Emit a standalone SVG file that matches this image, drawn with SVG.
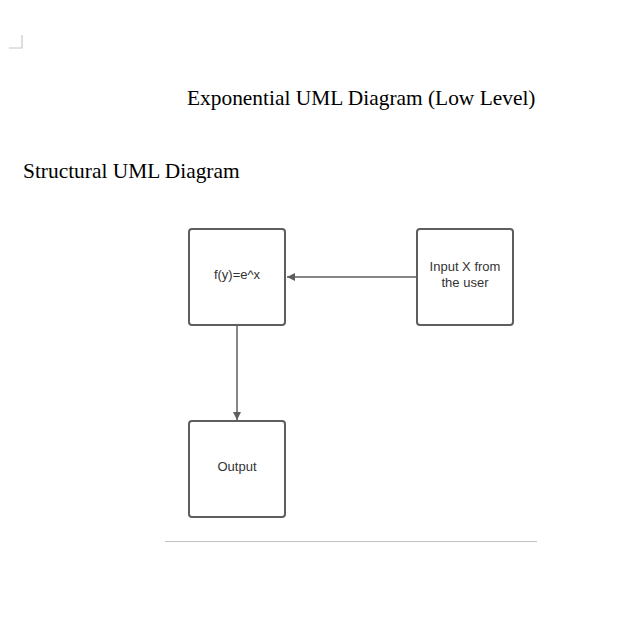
<svg xmlns="http://www.w3.org/2000/svg" width="641" height="641" viewBox="0 0 641 641">
<style>
.node rect{fill:#fff;stroke:#5e5e5e;stroke-width:2}
.lbl{font-family:"Liberation Sans",Arial,sans-serif;font-size:13px;fill:#333;text-anchor:middle}
.hdr{font-family:"Liberation Serif","Times New Roman",serif;font-size:21.4px;fill:#000}
.conn{stroke:#5e5e5e;stroke-width:1.5;fill:none}
</style>
<defs>
<marker id="ah" viewBox="0 0 10 10" refX="10" refY="5" markerWidth="8" markerHeight="8" markerUnits="userSpaceOnUse" orient="auto">
<path d="M0,0 L10,5 L0,10 z" fill="#5e5e5e"/>
</marker>
</defs>
<rect width="641" height="641" fill="#fff"/>
<path d="M9,48 H22 V35" fill="none" stroke="#c8c8c8" stroke-width="1.2"/>
<text class="hdr" x="187" y="105">Exponential UML Diagram (Low Level)</text>
<text class="hdr" x="23" y="178">Structural UML Diagram</text>
<g id="connectors">
<line class="conn" x1="417" y1="277" x2="287" y2="277" marker-end="url(#ah)"/>
<line class="conn" x1="237" y1="325" x2="237" y2="420" marker-end="url(#ah)"/>
</g>
<g id="node-f" class="node">
<rect x="189" y="229" width="96" height="96" rx="3"/>
<text class="lbl" x="237" y="279">f(y)=e^x</text>
</g>
<g id="node-input" class="node">
<rect x="417" y="229" width="96" height="96" rx="3"/>
<text class="lbl" x="465" y="271">Input X from</text>
<text class="lbl" x="465" y="287">the user</text>
</g>
<g id="node-output" class="node">
<rect x="189" y="421" width="96" height="96" rx="3"/>
<text class="lbl" x="237" y="471">Output</text>
</g>
<line x1="165" y1="541.5" x2="537" y2="541.5" stroke="#c0c0c0" stroke-width="1"/>
</svg>
